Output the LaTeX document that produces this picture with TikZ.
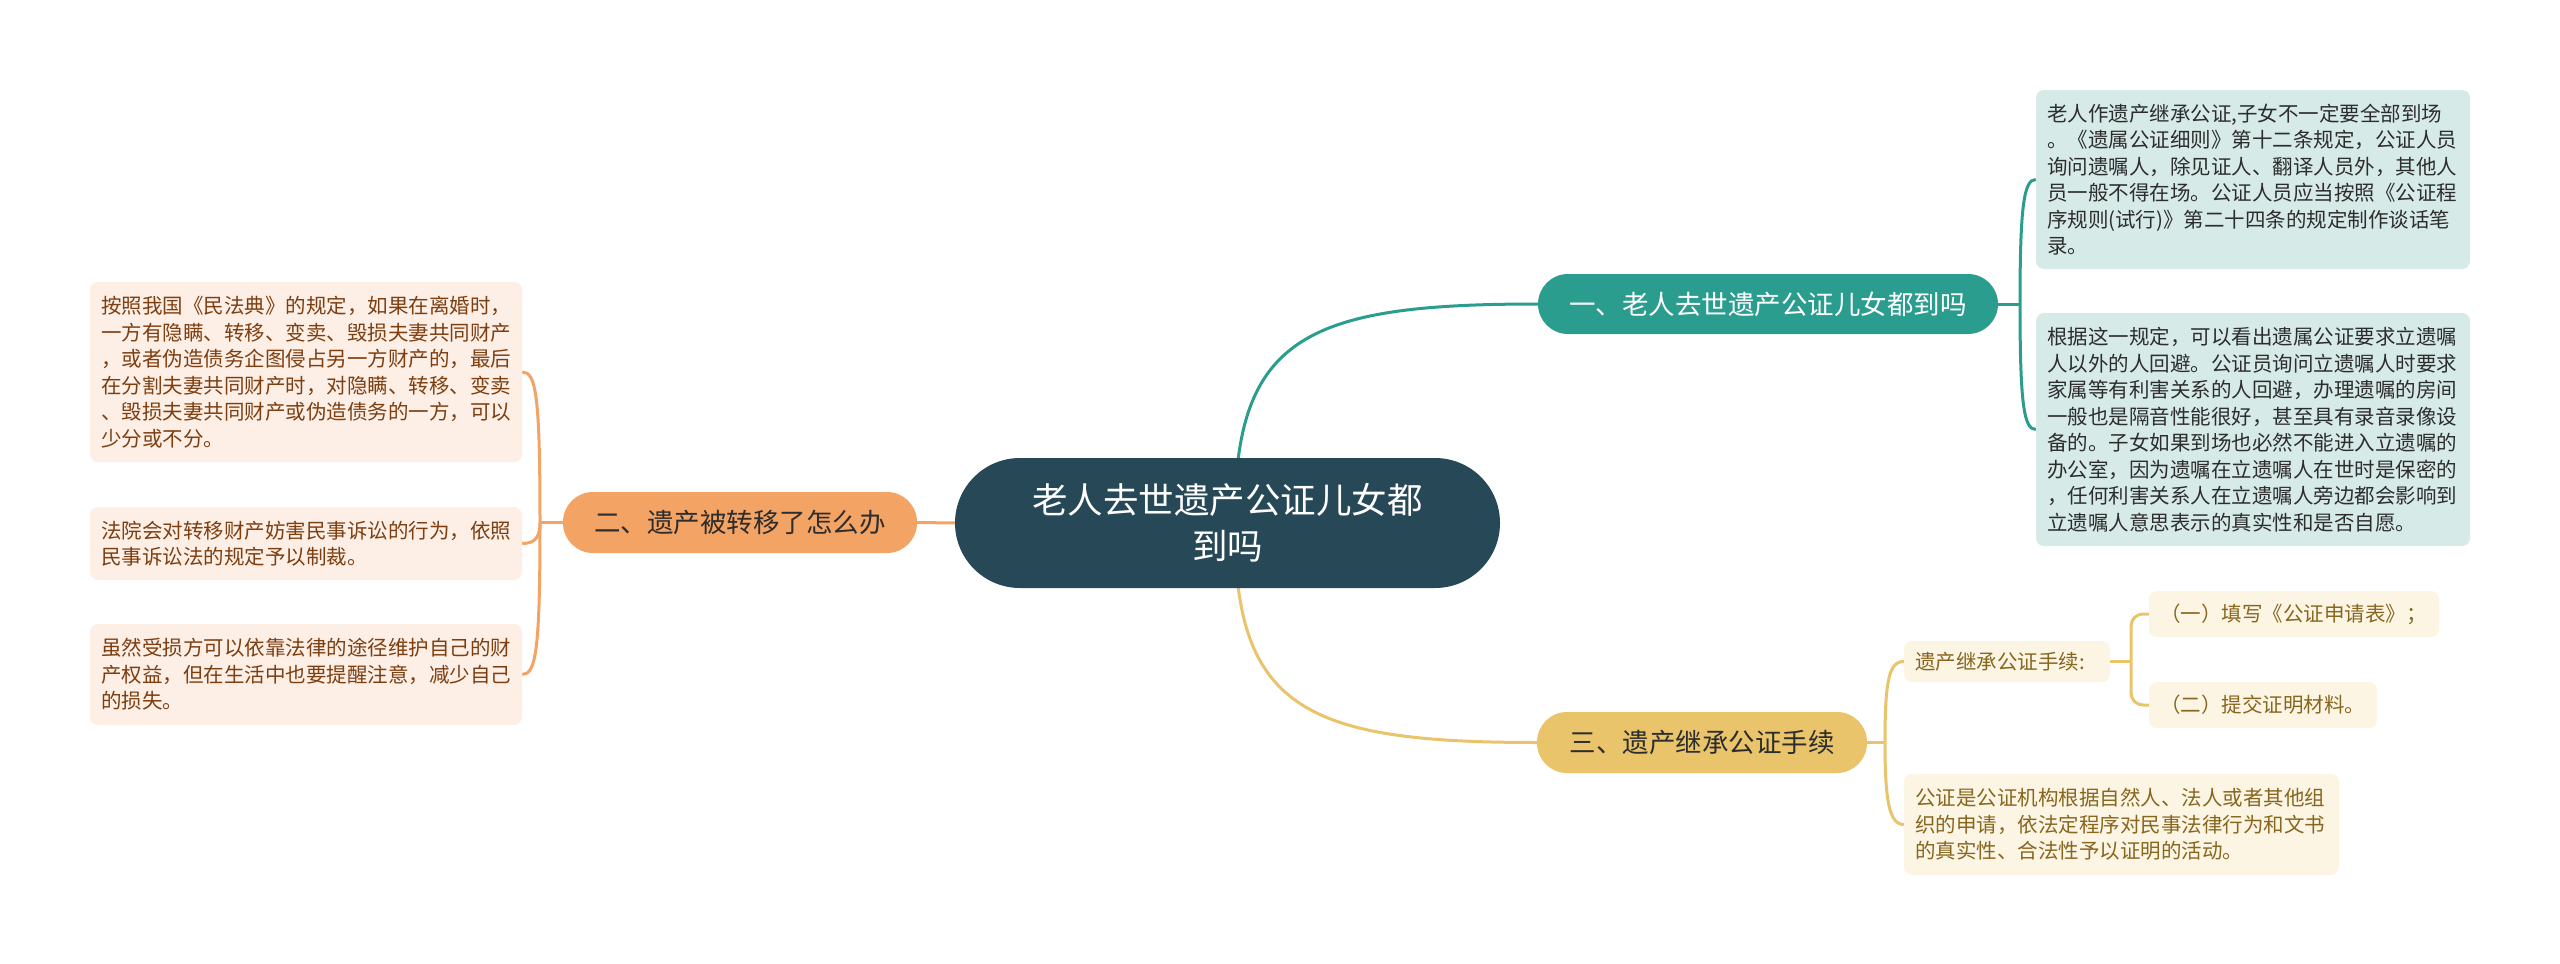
\documentclass[tikz,border=0pt]{standalone}
\usepackage{fontspec}
\setmainfont{Noto Sans CJK SC}
\usetikzlibrary{calc}
\pgfdeclarelayer{bg}
\pgfsetlayers{bg,main}
\definecolor{cdark}{RGB}{39,72,86}
\definecolor{cteal}{RGB}{42,157,143}
\definecolor{corange}{RGB}{243,163,99}
\definecolor{cyellow}{RGB}{233,196,106}
\definecolor{lteal}{RGB}{214,234,232}
\definecolor{lorange}{RGB}{253,239,230}
\definecolor{lyellow}{RGB}{252,245,228}
\definecolor{tgray}{RGB}{45,45,45}
\definecolor{tbrown}{RGB}{125,62,16}
\definecolor{tgold}{RGB}{135,102,30}
\tikzset{
  pill/.style={inner sep=0pt, align=center, anchor=center},
  leafbox/.style={rounded corners=8pt, inner xsep=11pt, inner ysep=0pt, align=left, anchor=center,
    font=\fontsize{20.5}{26.5}\selectfont},
  branchfont/.style={font=\fontsize{26.5}{32}\selectfont},
  link/.style={line width=3pt},
}
\begin{document}
\begin{tikzpicture}[x=1pt,y=-1pt]
\useasboundingbox (0,0) rectangle (2560,964);

% central topic
\node[pill, fill=cdark, text=white, rounded corners=65pt, minimum width=545pt, minimum height=130pt,
  font=\fontsize{35.5}{46}\selectfont] (c) at (1227.5,523) {老人去世遗产公证儿女都\\到吗};

% branches
\node[pill, branchfont, fill=cteal, text=white, rounded corners=30pt, minimum width=460pt, minimum height=60pt]
  (b1) at (1768,304) {一、老人去世遗产公证儿女都到吗};
\node[pill, branchfont, fill=corange, text=tgray, rounded corners=30pt, minimum width=354pt, minimum height=61pt]
  (b2) at (740,522.5) {二、遗产被转移了怎么办};
\node[pill, branchfont, fill=cyellow, text=tgray, rounded corners=30pt, minimum width=330pt, minimum height=61pt]
  (b3) at (1702,742.5) {三、遗产继承公证手续};

% branch 1 leaves
\node[leafbox, fill=lteal, text=tgray, text width=412pt, minimum height=179pt] (l1a) at (2253,179.5)
  {老人作遗产继承公证,子女不一定要全部到场\\。《遗属公证细则》第十二条规定，公证人员\\询问遗嘱人，除见证人、翻译人员外，其他人\\员一般不得在场。公证人员应当按照《公证程\\序规则(试行)》第二十四条的规定制作谈话笔\\录。};
\node[leafbox, fill=lteal, text=tgray, text width=412pt, minimum height=233pt] (l1b) at (2253,429.5)
  {根据这一规定，可以看出遗属公证要求立遗嘱\\人以外的人回避。公证员询问立遗嘱人时要求\\家属等有利害关系的人回避，办理遗嘱的房间\\一般也是隔音性能很好，甚至具有录音录像设\\备的。子女如果到场也必然不能进入立遗嘱的\\办公室，因为遗嘱在立遗嘱人在世时是保密的\\，任何利害关系人在立遗嘱人旁边都会影响到\\立遗嘱人意思表示的真实性和是否自愿。};

% branch 2 leaves
\node[leafbox, fill=lorange, text=tbrown, text width=410pt, minimum height=180pt] (l2a) at (306,372)
  {按照我国《民法典》的规定，如果在离婚时，\\一方有隐瞒、转移、变卖、毁损夫妻共同财产\\，或者伪造债务企图侵占另一方财产的，最后\\在分割夫妻共同财产时，对隐瞒、转移、变卖\\、毁损夫妻共同财产或伪造债务的一方，可以\\少分或不分。};
\node[leafbox, fill=lorange, text=tbrown, text width=410pt, minimum height=73pt] (l2b) at (306,543.5)
  {法院会对转移财产妨害民事诉讼的行为，依照\\民事诉讼法的规定予以制裁。};
\node[leafbox, fill=lorange, text=tbrown, text width=410pt, minimum height=101pt] (l2c) at (306,674.5)
  {虽然受损方可以依靠法律的途径维护自己的财\\产权益，但在生活中也要提醒注意，减少自己\\的损失。};

% branch 3 leaves
\node[leafbox, fill=lyellow, text=tgold, text width=184pt, minimum height=41pt] (l3a) at (2007,661.5)
  {遗产继承公证手续:};
\node[leafbox, fill=lyellow, text=tgold, text width=268pt, minimum height=46pt] (l3b1) at (2294,614)
  {（一）填写《公证申请表》；};
\node[leafbox, fill=lyellow, text=tgold, text width=206pt, minimum height=46pt] (l3b2) at (2263,705)
  {（二）提交证明材料。};
\node[leafbox, fill=lyellow, text=tgold, text width=413pt, minimum height=101pt] (l3c) at (2121.5,824.5)
  {公证是公证机构根据自然人、法人或者其他组\\织的申请，依法定程序对民事法律行为和文书\\的真实性、合法性予以证明的活动。};

% junctions
\coordinate (s1) at (1237,470);
\coordinate (s3) at (1237,576);
\coordinate (j1) at (2020,304);
\coordinate (j2) at (540,522.5);
\coordinate (j3) at (1885,742.5);
\coordinate (j4) at (2131,661.5);

\begin{pgfonlayer}{bg}
  \fill[white] (0,0) rectangle (2560,964);
  % center to branches
  \draw[link, cteal] (s1) .. controls (1250,330) and (1330,304) .. (b1.west);
  \draw[link, cyellow] (s3) .. controls (1250,716) and (1330,742.5) .. (b3.west);
  \draw[link, corange] (c.west) -- (b2.east);
  % branch 1
  \draw[link, cteal] (b1.east) -- (j1);
  \draw[link, cteal] (j1) .. controls (2020,205) and (2024,179.5) .. (l1a.west);
  \draw[link, cteal] (j1) .. controls (2020,405) and (2024,429.5) .. (l1b.west);
  % branch 2
  \draw[link, corange] (b2.west) -- (j2);
  \draw[link, corange] (j2) .. controls (540,395) and (536,372) .. (l2a.east);
  \draw[link, corange] (j2) .. controls (540,536) and (536,543.5) .. (l2b.east);
  \draw[link, corange] (j2) .. controls (540,650) and (536,674.5) .. (l2c.east);
  % branch 3
  \draw[link, cyellow] (b3.east) -- (j3);
  \draw[link, cyellow] (j3) .. controls (1885,680) and (1889,661.5) .. (l3a.west);
  \draw[link, cyellow] (j3) .. controls (1885,800) and (1889,824.5) .. (l3c.west);
  \draw[link, cyellow] (l3a.east) -- (j4);
  \draw[link, cyellow, rounded corners=12pt] (j4) |- (l3b1.west);
  \draw[link, cyellow, rounded corners=12pt] (j4) |- (l3b2.west);
\end{pgfonlayer}
\end{tikzpicture}
\end{document}
